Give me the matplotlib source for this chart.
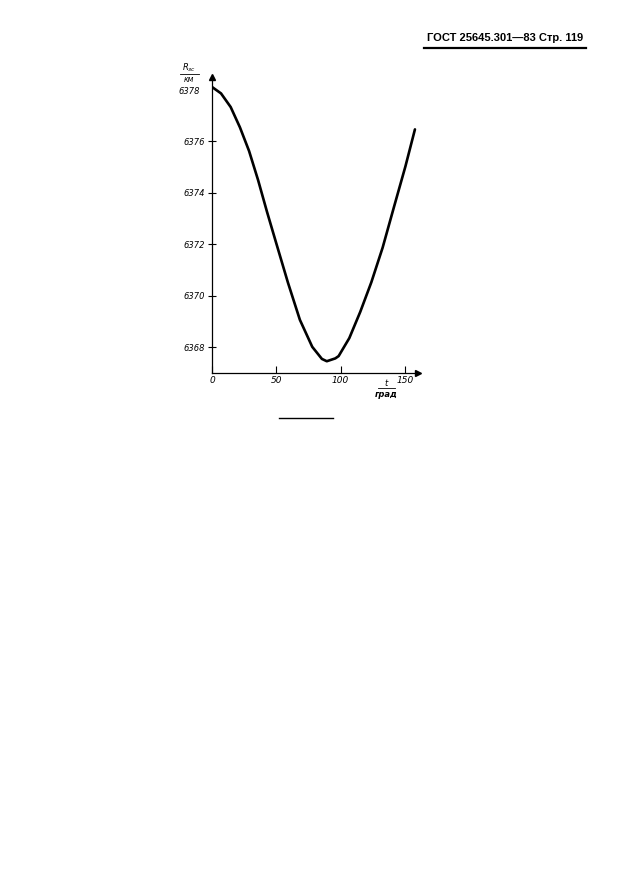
import numpy as np
import matplotlib.pyplot as plt
from matplotlib.lines import Line2D

# values (axes de-rotated)
t_vals = [0.0, 7.0, 14.5, 21.7, 28.8, 35.8, 42.7, 49.7, 59.0, 68.3, 77.9, 85.4,
          89.2, 95.8, 98.4, 106.7, 115.2, 123.8, 132.6, 141.4, 150.3, 157.7]
r_vals = [6378.12, 6377.87, 6377.34, 6376.55, 6375.63, 6374.50, 6373.27, 6372.08,
          6370.51, 6369.06, 6368.01, 6367.54, 6367.45, 6367.56, 6367.65, 6368.35,
          6369.37, 6370.52, 6371.87, 6373.45, 6375.03, 6376.47]

x_ticks = [0, 50, 100, 150]
y_ticks = [6368, 6370, 6372, 6374, 6376]

W, H = 629, 880
fig = plt.figure(figsize=(W / 100, H / 100), dpi=100)
fig.patch.set_facecolor('white')

ax = fig.add_axes([212 / W, 1 - 372.8 / H, 205.9 / W, 295.6 / H])
ax.plot(t_vals, r_vals, color='black', lw=1.9, solid_capstyle='round',
        solid_joinstyle='round')
ax.set_xlim(0, 160)
ax.set_ylim(6367.0, 6378.5)

for s in ['top', 'right']:
    ax.spines[s].set_visible(False)
for s in ['left', 'bottom']:
    ax.spines[s].set_linewidth(0.9)
ax.set_facecolor('none')

# arrow heads on the axes
ax.plot(1, 0, marker='>', color='black', ms=4, transform=ax.transAxes, clip_on=False)
ax.plot(0, 1, marker='^', color='black', ms=4, transform=ax.transAxes, clip_on=False)

ax.set_xticks(x_ticks)
ax.set_xticklabels([str(v) for v in x_ticks], fontsize=6.5, style='italic')
ax.set_yticks(y_ticks)
ax.set_yticklabels([str(v) for v in y_ticks], fontsize=6, style='italic')
ax.tick_params(axis='x', direction='in', length=5, width=0.8, pad=2)
ax.tick_params(axis='y', direction='inout', length=6, width=0.8, pad=2)


def px(x, y):
    return x / W, 1 - y / H


# top value label and axis titles
fig.text(*px(200, 91), '6378', ha='right', va='center', fontsize=6, style='italic')
fig.text(*px(189, 68), r'$R_{зс}$', ha='center', va='center', fontsize=6)
fig.add_artist(Line2D([180 / W, 199 / W], [1 - 74 / H, 1 - 74 / H], color='black', lw=0.6))
fig.text(*px(189, 79), 'км', ha='center', va='center', fontsize=5.5, style='italic')

fig.text(*px(386, 384), 't', ha='center', va='center', fontsize=6, style='italic')
fig.add_artist(Line2D([378 / W, 395 / W], [1 - 388.5 / H, 1 - 388.5 / H], color='black', lw=0.6))
fig.text(*px(386, 394), 'град', ha='center', va='center', fontsize=6, style='italic',
         weight='bold')

# page header
fig.text(*px(583, 38), 'ГОСТ 25645.301—83 Стр. 119', ha='right', va='center',
         fontsize=8, weight='bold', family=['Liberation Sans', 'DejaVu Sans'])
fig.add_artist(Line2D([424 / W, 586 / W], [1 - 48 / H, 1 - 48 / H], color='black', lw=1.6))

# short rule under the figure
fig.add_artist(Line2D([279 / W, 333 / W], [1 - 418 / H, 1 - 418 / H], color='black', lw=1.0))

fig.savefig('out.png', dpi=100)
